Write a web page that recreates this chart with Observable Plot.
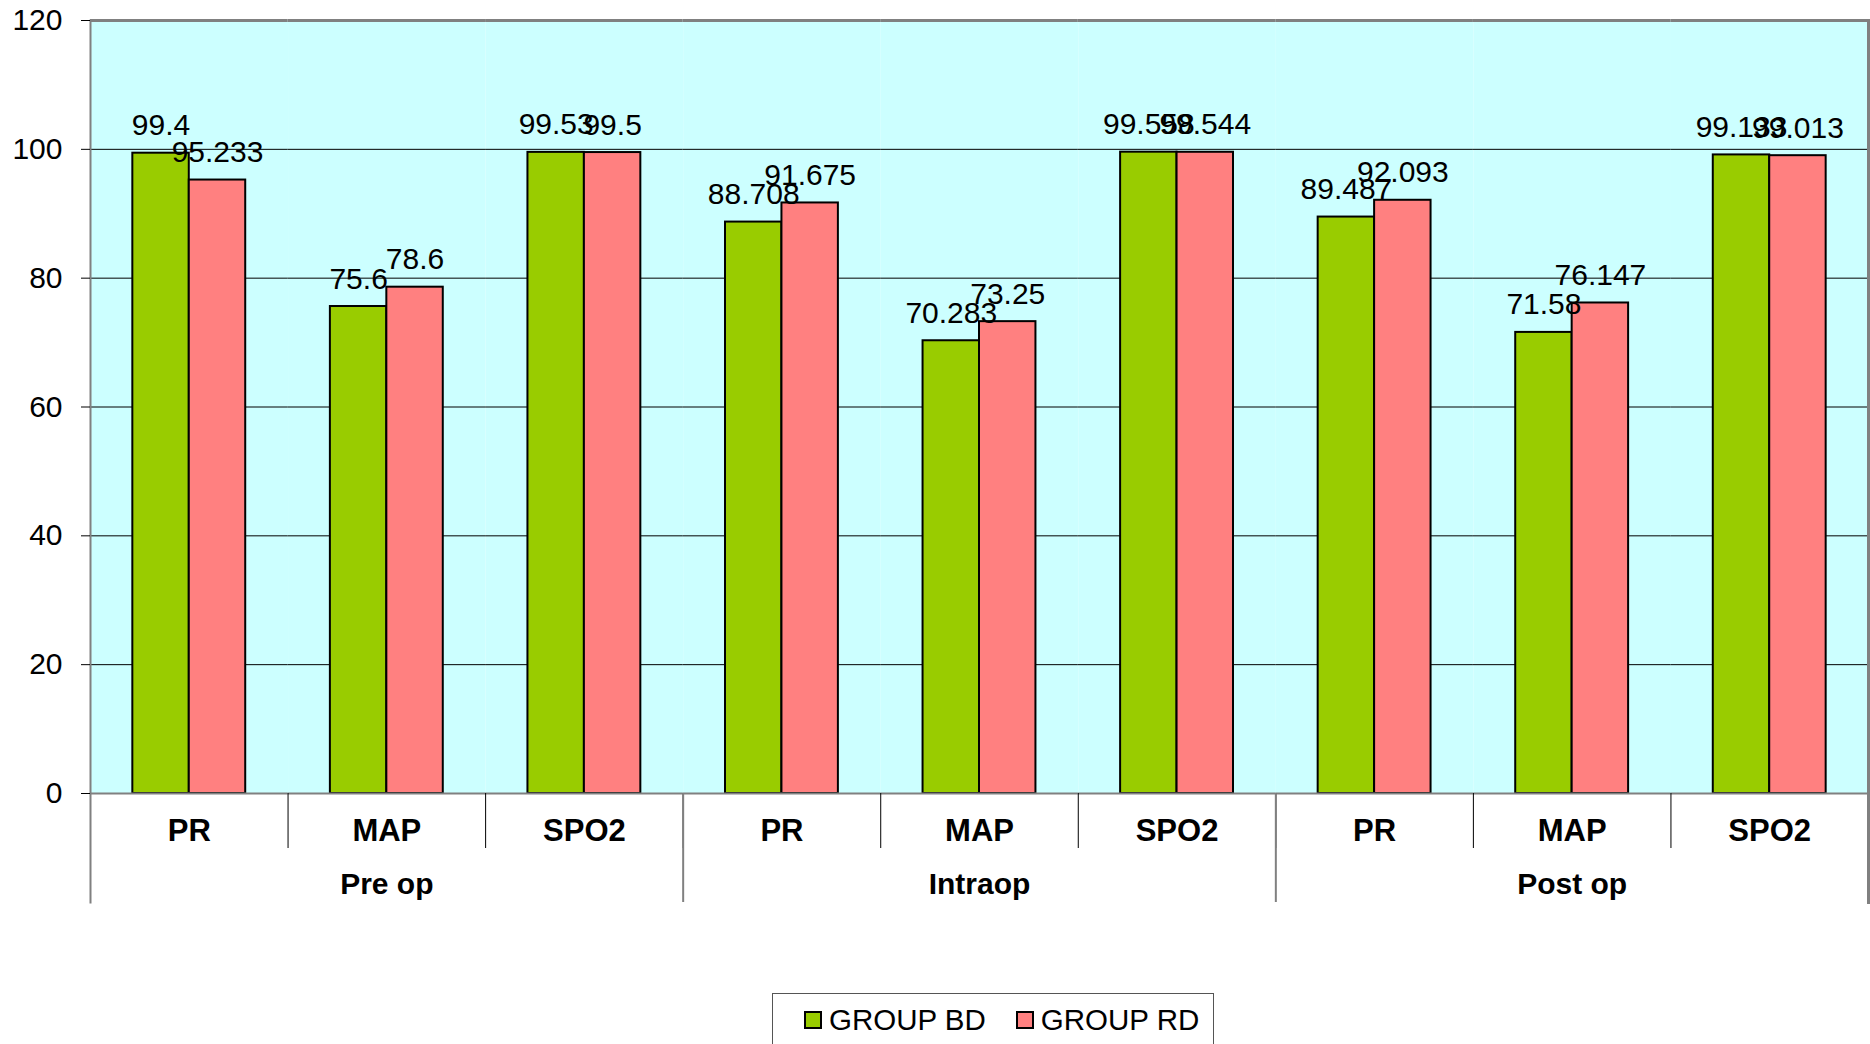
<!DOCTYPE html>
<html>
<head>
<meta charset="utf-8">
<script src="https://cdn.jsdelivr.net/npm/d3@7"></script>
<script src="https://cdn.jsdelivr.net/npm/@observablehq/plot@0.6"></script>
<style>
  html, body { margin: 0; padding: 0; background: white; }
  #wrap { position: relative; width: 1870px; height: 1044px; overflow: hidden; font-family: "Liberation Sans", Arial, sans-serif; }
  #legend { position: absolute; left: 772px; top: 993px; width: 442px; height: 80px; box-sizing: border-box;
            border: 1.5px solid #555; font-size: 29.5px; color: black; padding: 9px 0 0 31px; display: flex; align-items: flex-start; }
  .item { display: flex; align-items: center; height: 34px; }
  .sw { width: 14px; height: 14px; border: 2px solid black; margin-right: 7px; }
</style>
</head>
<body>
<div id="wrap"></div>
<script>
const phases = ["Pre op", "Intraop", "Post op"];
const params = ["PR", "MAP", "SPO2"];
const groups = ["GROUP BD", "GROUP RD"];
const groupColors = ["#99cc00", "#ff8080"];
const bdValues = [99.4, 75.6, 99.53, 88.708, 70.283, 99.558, 89.487, 71.58, 99.133];
const rdValues = [95.233, 78.6, 99.5, 91.675, 73.25, 99.544, 92.093, 76.147, 99.013];
const yTicks = [0, 20, 40, 60, 80, 100, 120];
const gridTicks = [20, 40, 60, 80, 100];

const W = 1870, H = 990, mL = 90, mR = 2, mT = 20, mB = 197;
const keys = phases.flatMap(ph => params.map(pa => ph + "|" + pa));
const facetW = (W - mL - mR) / keys.length;

const rows = [];
phases.forEach((ph, i) => params.forEach((pa, j) => {
  rows.push({key: ph + "|" + pa, group: groups[0], value: bdValues[i * 3 + j]});
  rows.push({key: ph + "|" + pa, group: groups[1], value: rdValues[i * 3 + j]});
}));
const phaseStarts = phases.slice(1).map(ph => ph + "|" + params[0]);

const chart = Plot.plot({
  width: W, height: H,
  marginLeft: mL, marginRight: mR, marginTop: mT, marginBottom: mB,
  style: {fontFamily: "'Liberation Sans', Arial, sans-serif", fontSize: "28px", color: "black", background: "white", overflow: "visible"},
  fx: {domain: keys, padding: 0, round: false, label: null, axis: null},
  x: {domain: groups, paddingInner: 0, paddingOuter: 0.75, round: false, axis: null},
  y: {domain: [0, 120], axis: null, label: null},
  color: {domain: groups, range: groupColors},
  marks: [
    Plot.frame({fill: "#ccffff", stroke: "none"}),
    Plot.ruleY(gridTicks, {stroke: "black", strokeWidth: 1}),
    Plot.barY(rows, {fx: "key", x: "group", y: "value", fill: "group", stroke: "black", strokeWidth: 2}),
    Plot.text(rows, {fx: "key", x: "group", y: "value", text: d => String(d.value), lineAnchor: "bottom", dy: -18, fontSize: 30, fill: "black"}),
    Plot.ruleY([0], {stroke: "#808080", strokeWidth: 2}),
    Plot.ruleY([120], {stroke: "#808080", strokeWidth: 3}),
    Plot.frame({anchor: "left", stroke: "black", strokeWidth: 1, insetTop: H - mT - mB, insetBottom: -54}),
    Plot.frame({anchor: "left", facetAnchor: "left", stroke: "#808080", strokeWidth: 2, insetBottom: -109}),
    Plot.ruleX(phaseStarts, {fx: d => d, x: null, dx: -facetW / 2, stroke: "#808080", strokeWidth: 2, insetTop: H - mT - mB, insetBottom: -109}),
    Plot.frame({anchor: "right", facetAnchor: "right", stroke: "#808080", strokeWidth: 3, insetBottom: -109}),
    Plot.axisY({ticks: yTicks, tickSize: 9, tickPadding: 19, fontSize: 30, stroke: "black", label: null}),
    Plot.axisFx({anchor: "bottom", tickSize: 0, tickPadding: 25, tickFormat: k => k.split("|")[1], fontWeight: "bold", fontSize: 31, label: null}),
    Plot.text(phases, {fx: d => d + "|" + params[1], text: d => d, frameAnchor: "bottom", lineAnchor: "top", dy: 79, fontWeight: "bold", fontSize: 30, fill: "black"})
  ]
});
const wrap = document.getElementById("wrap");
wrap.appendChild(chart);

const legend = document.createElement("div");
legend.id = "legend";
groups.forEach((g, i) => {
  const item = document.createElement("div");
  item.className = "item";
  if (i > 0) item.style.marginLeft = "30px";
  const sw = document.createElement("div");
  sw.className = "sw";
  sw.style.background = groupColors[i];
  const t = document.createElement("span");
  t.textContent = g;
  item.appendChild(sw); item.appendChild(t);
  legend.appendChild(item);
});
wrap.appendChild(legend);
</script>
</body>
</html>
